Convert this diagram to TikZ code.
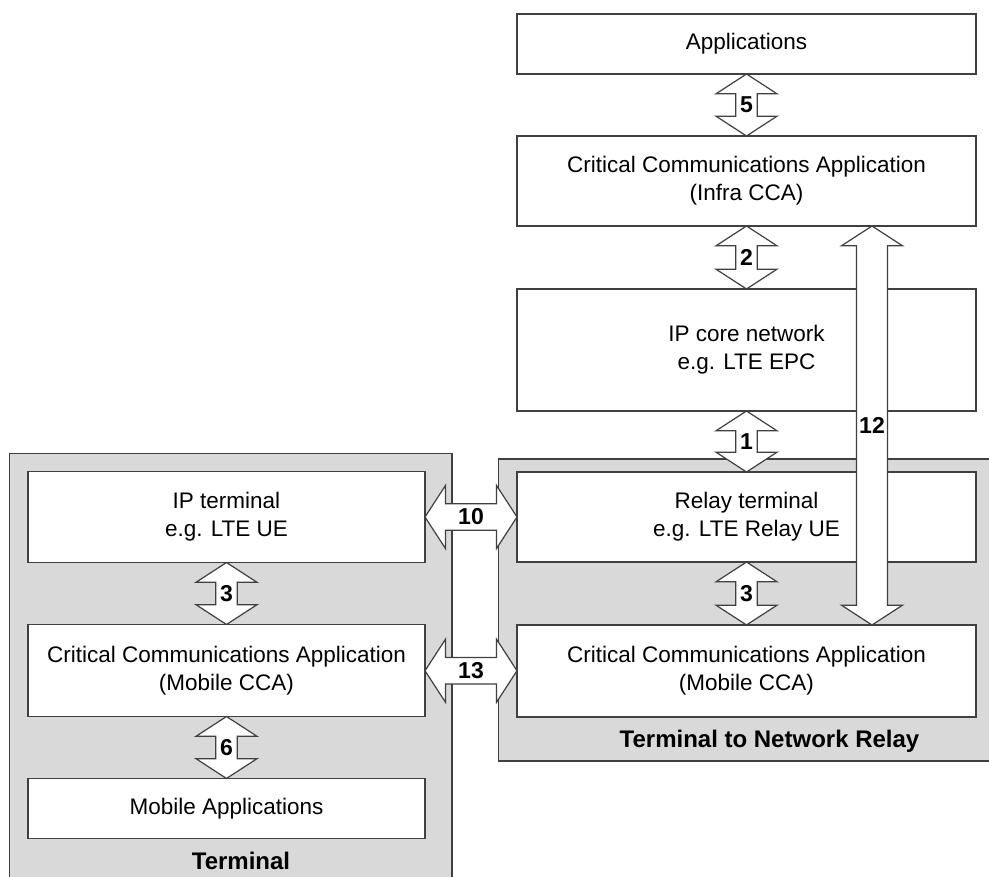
\documentclass[tikz,border=0pt]{standalone}
\usepackage{fontspec}
\setmainfont{Liberation Sans}
\usepackage{tikz}
\usetikzlibrary{backgrounds,shapes,arrows,positioning,calc}

\definecolor{linegray}{RGB}{64,64,64}
\definecolor{groupgray}{RGB}{217,217,217}

\tikzset{
  box/.style={draw=linegray, line width=1.5pt, fill=white, align=center, inner sep=0pt, font=\fontsize{22.5}{28}\selectfont},
  rbox/.style={box, minimum width=459pt},
  lbox/.style={box, minimum width=397pt},
  dblarrow/.style={double arrow, draw=linegray, line width=1.2pt, fill=white, inner sep=0pt, double arrow head extend=13pt, double arrow tip angle=114, minimum width=61pt, font=\fontsize{23}{23}\selectfont\bfseries},
  varrow/.style={dblarrow, shape border rotate=90},
  harrow/.style={dblarrow, minimum width=63pt, double arrow head extend=12pt, minimum height=92pt},
  group/.style={draw=linegray, line width=1.5pt, fill=groupgray},
  grouplabel/.style={font=\fontsize{24}{24}\selectfont\bfseries}
}

\begin{document}
\begin{tikzpicture}[x=1pt, y=1pt, node distance=60.5pt]
\useasboundingbox (0,0) rectangle (989,-877);
% network side
\node[rbox, minimum height=60pt] (apps) at (746.5,-44) {Applications};
\node[rbox, minimum height=90pt, below=of apps] (infra) {Critical Communications Application\\(Infra CCA)};
\node[rbox, minimum height=122pt, below=61.5pt of infra] (ipcore) {IP core network\\e.g. LTE EPC};
\node[rbox, minimum height=90pt, below=59.5pt of ipcore] (relterm) {Relay terminal\\e.g. LTE Relay UE};
\node[rbox, minimum height=92pt, below=61.5pt of relterm] (rcca) {Critical Communications Application\\(Mobile CCA)};
% terminal side
\node[lbox, minimum height=91pt, left=90.5pt of relterm] (ipterm) {IP terminal\\e.g. LTE UE};
\node[lbox, minimum height=92pt, below=of ipterm] (tcca) {Critical Communications Application\\(Mobile CCA)};
\node[lbox, minimum height=60pt, below=of tcca] (mobapps) {Mobile Applications};
\node[grouplabel] (rlabel) at ($(rcca.south)+(23,-24)$) {Terminal to Network Relay};
\node[grouplabel] (tlabel) at ($(mobapps.south)+(14.5,-22)$) {Terminal};
\begin{scope}[on background layer]
\draw[group] ($(ipterm.north west)+(-18,17)$) rectangle ($(mobapps.south east)+(26,-60)$);
\draw[group] ($(relterm.north west)+(-18,12)$) rectangle ($(rcca.south east)+(40,-43)$);
\end{scope}
% reference points
\node[varrow, minimum height=62pt] (i5) at ($(apps.south)!.5!(infra.north)$) {5};
\node[varrow, minimum height=63pt] (i2) at ($(infra.south)!.5!(ipcore.north)$) {2};
\node[varrow, minimum height=61pt] (i1) at ($(ipcore.south)!.5!(relterm.north)$) {1};
\node[varrow, minimum height=63pt] (i3r) at ($(relterm.south)!.5!(rcca.north)$) {3};
\node[varrow, minimum height=62pt] (i3t) at ($(ipterm.south)!.5!(tcca.north)$) {3};
\node[varrow, minimum height=62pt] (i6) at ($(tcca.south)!.5!(mobapps.north)$) {6};
\node[varrow, minimum height=399pt] (i12) at ($(infra.south)!.5!(rcca.north)+(125.5,0)$) {12};
\node[harrow] (i10) at ($(ipterm.east)!.5!(relterm.west)$) {10};
\node[harrow] (i13) at ($(tcca.east)!.5!(rcca.west)$) {13};
\end{tikzpicture}
\end{document}
